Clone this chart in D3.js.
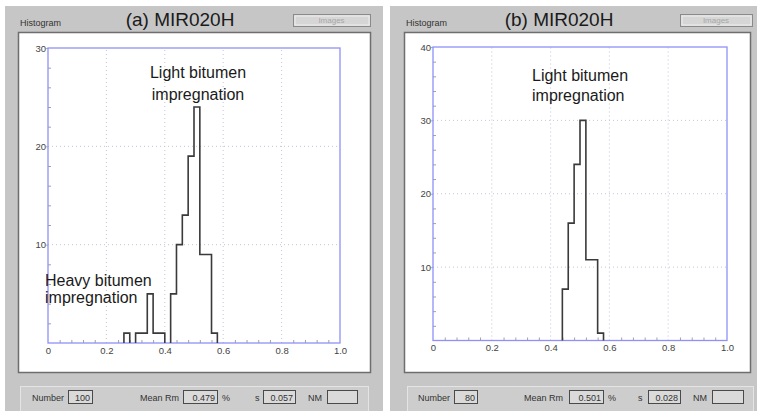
<!DOCTYPE html>
<html>
<head>
<meta charset="utf-8">
<script src="https://cdn.jsdelivr.net/npm/d3@7"></script>
<style>
  html, body { margin: 0; padding: 0; background: #ffffff; }
  svg { display: block; font-family: "Liberation Sans", Arial, sans-serif; }
</style>
</head>
<body>
<svg id="chart" width="757" height="411"></svg>
<script>
// Reflectance histograms (frequency %, bin width 0.02 Rm %)
const binWidth = 0.02;

const binsA = [0.26, 0.28, 0.30, 0.32, 0.34, 0.36, 0.38, 0.40, 0.42, 0.44, 0.46, 0.48, 0.50, 0.52, 0.54, 0.56];
const freqA = [1, 0, 1, 1, 5, 1, 1, 0, 5, 10, 13, 19, 24, 9, 9, 1];

const binsB = [0.44, 0.46, 0.48, 0.50, 0.52, 0.54, 0.56];
const freqB = [7, 16, 24, 30, 11, 11, 1];

const xTickValues = [0, 0.2, 0.4, 0.6, 0.8, 1.0];
const xMinorValues = [0.04, 0.08, 0.12, 0.16, 0.24, 0.28, 0.32, 0.36, 0.44, 0.48, 0.52, 0.56,
                      0.64, 0.68, 0.72, 0.76, 0.84, 0.88, 0.92, 0.96];
const yTicksA = [10, 20, 30];
const yTicksB = [10, 20, 30, 40];

const titles = ["(a) MIR020H", "(b) MIR020H"];
const numbers = ["100", "80"];
const meanRm = ["0.479", "0.501"];
const stdDev = ["0.057", "0.028"];

const notesA = [["Light bitumen", "impregnation"], ["Heavy bitumen", "impregnation"]];
const notesB = [["Light bitumen", "impregnation"]];

// Window layout for each of the two screens
const panels = [
  { win: [5, 6, 383, 411], plotBox: [18, 32, 370, 372], plot: [48, 48, 340, 343], yMax: 30,
    bins: binsA, freq: freqA, yTicks: yTicksA, title: titles[0], titleX: 180,
    btn: [293, 14, 370, 26], status: [20, 386, 368, 411],
    st: { num: 32, numBox: [68, 92], mean: 140, meanBox: [183, 217], pct: 222, s: 255, sBox: [263, 295], nm: 308, nmBox: [327, 357] },
    idx: 0,
    notes: [{ x: 198, y: [78, 100], anchor: "middle", lines: notesA[0] },
            { x: 45, y: [286, 303], anchor: "start", lines: notesA[1] }] },
  { win: [390, 6, 757, 411], plotBox: [404, 32, 750, 372], plot: [433, 47, 727, 340.5], yMax: 40,
    bins: binsB, freq: freqB, yTicks: yTicksB, title: titles[1], titleX: 559,
    btn: [680, 14, 752, 26], status: [407, 386, 753, 411],
    st: { num: 418, numBox: [454, 477], mean: 524, meanBox: [569, 603], pct: 608, s: 638, sBox: [648, 680], nm: 693, nmBox: [712, 743] },
    idx: 1,
    notes: [{ x: 532, y: [81, 101], anchor: "start", lines: notesB[0] }] }
];

const svg = d3.select("#chart");

panels.forEach(p => {
  const g = svg.append("g");

  // window background
  g.append("rect")
    .attr("x", p.win[0]).attr("y", p.win[1])
    .attr("width", p.win[2] - p.win[0]).attr("height", p.win[3] - p.win[1])
    .attr("fill", "#c6c6c6");

  // header
  g.append("text").attr("x", p.plotBox[0] + 2).attr("y", 26)
    .attr("font-size", 9).attr("fill", "#333").text("Histogram");
  g.append("text").attr("x", p.titleX).attr("y", 26).attr("text-anchor", "middle")
    .attr("font-size", 19).attr("fill", "#1a1a1a").text(p.title);

  // disabled "Images" button
  g.append("rect")
    .attr("x", p.btn[0] + 0.5).attr("y", p.btn[1] + 0.5)
    .attr("width", p.btn[2] - p.btn[0]).attr("height", p.btn[3] - p.btn[1])
    .attr("fill", "#d6d6d6").attr("stroke", "#8a8a8a");
  g.append("rect")
    .attr("x", p.btn[0] + 2).attr("y", p.btn[1] + 2)
    .attr("width", p.btn[2] - p.btn[0] - 3).attr("height", p.btn[3] - p.btn[1] - 3)
    .attr("fill", "none").attr("stroke", "#eeeeee");
  g.append("text").attr("x", (p.btn[0] + p.btn[2]) / 2).attr("y", p.btn[3] - 3)
    .attr("text-anchor", "middle").attr("font-size", 8).attr("fill", "#a8a8a8").text("Images");

  // white chart area
  g.append("rect")
    .attr("x", p.plotBox[0] + 0.5).attr("y", p.plotBox[1] + 0.5)
    .attr("width", p.plotBox[2] - p.plotBox[0]).attr("height", p.plotBox[3] - p.plotBox[1])
    .attr("fill", "#ffffff").attr("stroke", "#6e6e6e").attr("stroke-width", 1.5);

  // scales
  const x = d3.scaleLinear().domain([0, 1]).range([p.plot[0], p.plot[2]]);
  const y = d3.scaleLinear().domain([0, p.yMax]).range([p.plot[3], p.plot[1]]);

  // dotted grid
  g.append("g").selectAll("line").data(xTickValues.slice(1, -1)).join("line")
    .attr("x1", d => x(d)).attr("x2", d => x(d))
    .attr("y1", y(0)).attr("y2", y(p.yMax))
    .attr("stroke", "#c4c4dc").attr("stroke-dasharray", "1,3");
  g.append("g").selectAll("line").data(p.yTicks.slice(0, -1)).join("line")
    .attr("x1", x(0)).attr("x2", x(1))
    .attr("y1", d => y(d)).attr("y2", d => y(d))
    .attr("stroke", "#c4c4dc").attr("stroke-dasharray", "1,3");

  // minor ticks (inside)
  const yMinor = d3.range(2, p.yMax, 2).filter(v => v % 10 !== 0);
  g.append("g").attr("transform", `translate(0,${y(0)})`)
    .call(d3.axisBottom(x).tickValues(xMinorValues).tickSize(-3).tickFormat(""))
    .call(a => a.select(".domain").remove())
    .call(a => a.selectAll("line").attr("stroke", "#a0a0a0"));
  g.append("g").attr("transform", `translate(${x(0)},0)`)
    .call(d3.axisLeft(y).tickValues(yMinor).tickSize(-3).tickFormat(""))
    .call(a => a.select(".domain").remove())
    .call(a => a.selectAll("line").attr("stroke", "#a0a0a0"));

  // tick labels
  g.append("g").attr("transform", `translate(0,${y(0)})`)
    .call(d3.axisBottom(x).tickValues(xTickValues).tickSize(0).tickPadding(4)
      .tickFormat(d => d === 0 ? "0" : d3.format(".1f")(d)))
    .call(a => a.select(".domain").remove())
    .call(a => a.selectAll("text").attr("font-size", 9.5).attr("fill", "#444")
      .attr("font-family", "'Liberation Sans', Arial, sans-serif"));
  g.append("g").attr("transform", `translate(${x(0)},0)`)
    .call(d3.axisLeft(y).tickValues(p.yTicks).tickSize(2).tickPadding(0))
    .call(a => a.select(".domain").remove())
    .call(a => a.selectAll("line").attr("stroke", "#b0b0b0"))
    .call(a => a.selectAll("text").attr("font-size", 9.5).attr("fill", "#444")
      .attr("font-family", "'Liberation Sans', Arial, sans-serif"));

  // plot frame
  g.append("rect")
    .attr("x", x(0)).attr("y", y(p.yMax))
    .attr("width", x(1) - x(0)).attr("height", y(0) - y(p.yMax))
    .attr("fill", "none").attr("stroke", "#9090f8").attr("stroke-width", 1.3);

  // histogram outline, one closed step run per group of non-empty bins
  const path = d3.path();
  let open = false;
  p.bins.forEach((b, i) => {
    const v = p.freq[i];
    if (v > 0) {
      if (!open) { path.moveTo(x(b), y(0)); open = true; }
      path.lineTo(x(b), y(v));
      path.lineTo(x(b + binWidth), y(v));
    }
    const next = p.freq[i + 1];
    if (open && !(next > 0)) {
      path.lineTo(x(b + binWidth), y(0));
      open = false;
    }
  });
  g.append("path").attr("d", path.toString())
    .attr("fill", "none").attr("stroke", "#3a3a3a").attr("stroke-width", 1.6);

  // annotations
  p.notes.forEach(n => {
    n.lines.forEach((line, k) => {
      g.append("text").attr("x", n.x).attr("y", n.y[k])
        .attr("text-anchor", n.anchor).attr("font-size", 16).attr("fill", "#1a1a1a")
        .text(line);
    });
  });

  // status bar
  const s = p.status;
  g.append("rect").attr("x", s[0] + 0.5).attr("y", s[1] + 0.5)
    .attr("width", s[2] - s[0]).attr("height", s[3] - s[1])
    .attr("fill", "#cdcdcd").attr("stroke", "#e4e4e4");
  const ty = 401;
  const label = (xx, t) => g.append("text").attr("x", xx).attr("y", ty)
    .attr("font-size", 9).attr("fill", "#333").text(t);
  const box = (b, t) => {
    g.append("rect").attr("x", b[0] + 0.5).attr("y", 390.5)
      .attr("width", b[1] - b[0]).attr("height", 13)
      .attr("fill", "#dadada").attr("stroke", "#4a4a4a");
    if (t) g.append("text").attr("x", b[1] - 2).attr("y", ty).attr("text-anchor", "end")
      .attr("font-size", 9).attr("fill", "#333").text(t);
  };
  label(p.st.num, "Number"); box(p.st.numBox, numbers[p.idx]);
  label(p.st.mean, "Mean Rm"); box(p.st.meanBox, meanRm[p.idx]);
  label(p.st.pct, "%");
  label(p.st.s, "s"); box(p.st.sBox, stdDev[p.idx]);
  label(p.st.nm, "NM"); box(p.st.nmBox, "");
});
</script>
</body>
</html>
